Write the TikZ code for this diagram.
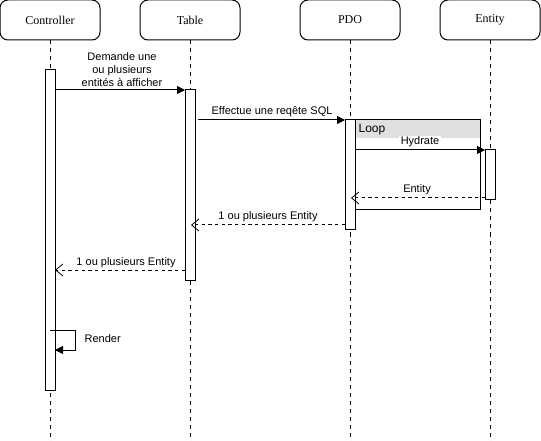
\documentclass[tikz,border=0pt]{standalone}
\usepackage{fontspec}
\setmainfont{Liberation Serif}
\setsansfont{Liberation Sans}
\usetikzlibrary{arrows.meta,positioning}
\begin{document}
\begin{tikzpicture}[x=0.75pt,y=-0.75pt,
  head/.style={draw,rounded corners=6pt,minimum width=75pt,minimum height=30pt,inner sep=0pt,font=\fontsize{9}{11}\selectfont,line width=0.75pt},
  life/.style={dashed,line width=0.75pt,dash pattern=on 3pt off 3pt},
  act/.style={draw,fill=white,line width=0.75pt},
  msg/.style={line width=0.75pt,-{Triangle[length=6pt,width=6pt]}},
  ret/.style={line width=0.75pt,dash pattern=on 2.5pt off 2.5pt,-{Straight Barb[length=5.5pt,width=9pt,line width=0.6pt]}},
  lbl/.style={font=\sffamily\fontsize{8.25}{9.5}\selectfont,inner sep=1pt,align=center}
]
\useasboundingbox (0,0) rectangle (541,441);
% heads
\node[head] (hc) at (50,20) {Controller};
\node[head] (ht) at (190,20) {Table};
\node[head] (hp) at (350,20) {PDO};
\node[head] (he) at (490,20) {Entity};
% lifelines
\coordinate (ec) at (50,441);
\coordinate (et) at (190,441);
\coordinate (ep) at (350,441);
\coordinate (ee) at (490,441);
\draw[life] (hc.south) -- (ec);
\draw[life] (ht.south) -- (et);
\draw[life] (hp.south) -- (ep);
\draw[life] (he.south) -- (ee);
% activations
\draw[act] (45,70) rectangle (55,390);
\draw[act] (185,90) rectangle (195,280);
\draw[act] (345,120) rectangle (355,230);
\draw[act] (485,150) rectangle (495,200);
% loop frame
\fill[black!12] (355.5,120.5) rectangle (480,138);
\draw[line width=0.75pt] (355,120) -- (480,120) -- (480,210) -- (355,210);
\node[lbl,anchor=west,font=\sffamily\fontsize{9}{10}\selectfont] (loop) at (357,130) {Loop};
% messages
\coordinate (m1a) at (55,90); \coordinate (m1b) at (185,90);
\draw[msg] (m1a) -- (m1b);
\node[lbl] (l1) at (122,69.5) {Demande une\\ou plusieurs\\entités à afficher};
\coordinate (m2a) at (198,120); \coordinate (m2b) at (345,120);
\draw[msg] (m2a) -- (m2b);
\node[lbl] (l2) at (272,112) {Effectue une reqête SQL};
\coordinate (m3a) at (355,150); \coordinate (m3b) at (485,150);
\draw[msg] (m3a) -- (m3b);
\node[lbl,fill=white] (l3) at (420,142) {Hydrate};
\coordinate (r1a) at (485,198); \coordinate (r1b) at (351,198);
\draw[ret] (r1a) -- (r1b);
\node[lbl] (l4) at (417,190) {Entity};
\coordinate (r2a) at (345,225); \coordinate (r2b) at (191,225);
\draw[ret] (r2a) -- (r2b);
\node[lbl] (l5) at (268,217) {1 ou plusieurs Entity};
\coordinate (r3a) at (185,270); \coordinate (r3b) at (55,270);
\draw[ret] (r3a) -- (r3b);
\node[lbl] (l6) at (126,263) {1 ou plusieurs Entity};
% self message
\coordinate (s1) at (50,330); \coordinate (s2) at (55,350);
\draw[msg] (s1) -- (75,330) -- (75,350) -- (s2);
\node[lbl,anchor=west] (l7) at (83,339) {Render};
\end{tikzpicture}
\end{document}
